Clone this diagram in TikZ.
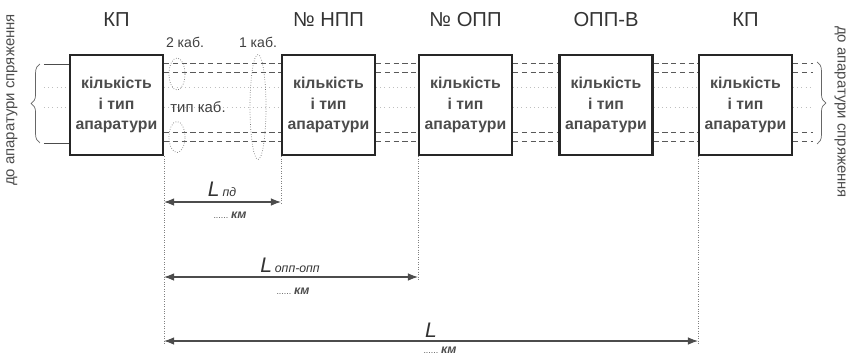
\documentclass[tikz,border=0pt]{standalone}
\usepackage{fontspec}
\setmainfont{Liberation Sans}
\usetikzlibrary{arrows.meta, positioning, shapes.geometric, calc,
                decorations.pathreplacing}

\begin{document}
\begin{tikzpicture}[
    x=0.02cm, y=-0.02cm,
    >=Latex,
    station/.style={draw=black!85, line width=1.2pt, minimum width=1.86cm,
                    minimum height=2cm, align=center, inner sep=1pt,
                    font=\fontsize{9}{11.5}\selectfont\bfseries, text=black!70},
    title/.style={font=\fontsize{11.5}{14}\selectfont, text=black!80},
    cable/.style={densely dashed, draw=black!65, line width=0.6pt},
    faint/.style={dotted, draw=black!25},
    oval/.style={ellipse, densely dotted, draw=black!55, inner sep=0pt},
    guide/.style={densely dotted, draw=black!50},
    span/.style={<->, draw=black!70, line width=0.6pt},
    note/.style={font=\fontsize{8}{10}\selectfont, text=black!75},
    side/.style={font=\fontsize{8.5}{10}\selectfont, text=black!70}
  ]
  \useasboundingbox (0,0) rectangle (851,356);

  % stations
  \node[station] (kp1)  at (116.5,105) {кількість\\і тип\\апаратури};
  \node[station] (npp)  at (328.5,105) {кількість\\і тип\\апаратури};
  \node[station] (opp)  at (465.5,105) {кількість\\і тип\\апаратури};
  \node[station] (oppv) at (606,105)   {кількість\\і тип\\апаратури};
  \node[station] (kp2)  at (745.5,105) {кількість\\і тип\\апаратури};

  \node[title] at (116.5,20) {КП};
  \node[title] at (328.5,20) {№ НПП};
  \node[title] at (465.5,20) {№ ОПП};
  \node[title] at (606,20)   {ОПП-В};
  \node[title] at (745.5,20) {КП};

  % cable pairs between stations
  \foreach \a/\b in {kp1/npp, npp/opp, opp/oppv, oppv/kp2} {
    \foreach \dy in {10,19,79,88}
      \draw[cable] ($(\a.north east)+(0,\dy)$) -- ($(\b.north west)+(0,\dy)$);
    \foreach \dy in {33,53}
      \draw[faint] ($(\a.north east)+(0,\dy)$) -- ($(\b.north west)+(0,\dy)$);
  }

  % cable bundles
  \node[oval, minimum width=0.32cm, minimum height=0.64cm] (two1) at (177,74) {};
  \node[oval, minimum width=0.32cm, minimum height=0.62cm] (two2) at (177,137) {};
  \node[oval, minimum width=0.32cm, minimum height=2.1cm] (one) at (258,107) {};
  \node[note] at (185,42) {2 каб.};
  \node[note] at (258,42) {1 каб.};
  \node[note, font=\fontsize{8.5}{10}\selectfont] at (198,107) {тип каб.};

  % towards interface equipment
  \coordinate (lt) at ($(kp1.north west)+(-25,10)$);
  \coordinate (lb) at ($(kp1.north west)+(-25,89)$);
  \draw[draw=black!70] (lt) -- ($(kp1.north west)+(0,10)$);
  \draw[draw=black!70] (lb) -- ($(kp1.north west)+(0,89)$);
  \foreach \dy in {33,53}
    \draw[faint] ($(kp1.north west)+(-25,\dy)$) -- ($(kp1.north west)+(0,\dy)$);
  \draw[draw=black!60, decorate, decoration={brace, amplitude=5pt}]
    ($(lb)+(-4,0)$) -- ($(lt)+(-4,0)$);
  \foreach \dy in {10,19,79,88}
    \draw[cable] ($(kp2.north east)+(0,\dy)$) -- ++(20,0);
  \foreach \dy in {33,53}
    \draw[faint] ($(kp2.north east)+(0,\dy)$) -- ++(20,0);
  \draw[draw=black!60, decorate, decoration={brace, amplitude=5pt}]
    ($(kp2.north east)+(24,8)$) -- ($(kp2.north east)+(24,90)$);
  \node[side, rotate=90]  (lside) at (12,100)  {до апаратури спряження};
  \node[side, rotate=-90] (rside) at (840,112) {до апаратури спряження};

  % distances
  \draw[guide] (kp1.south east) -- (kp1.south east |- 0,345);
  \draw[guide] (npp.south west) -- (npp.south west |- 0,205);
  \draw[guide] (opp.south west) -- (opp.south west |- 0,280);
  \draw[guide] (kp2.south west) -- (kp2.south west |- 0,344);

  \draw[span] (kp1.south east |- 0,202) -- (npp.south west |- 0,202);
  \draw[span] (kp1.south east |- 0,277) -- (opp.south west |- 0,277);
  \draw[span] (kp1.south east |- 0,341) -- (kp2.south west |- 0,341);

  \node[text=black!80] at (222,189)
    {{\fontsize{12}{14}\selectfont\itshape L}\,{\fontsize{7}{8}\selectfont\itshape пд}};
  \node[text=black!70] at (230,215)
    {{\fontsize{5}{6}\selectfont......}\,{\fontsize{7}{8}\selectfont\itshape\bfseries км}};
  \node[text=black!80] at (290,265)
    {{\fontsize{12}{14}\selectfont\itshape L}\,{\fontsize{7}{8}\selectfont\itshape опп-опп}};
  \node[text=black!70] at (293,291)
    {{\fontsize{5}{6}\selectfont......}\,{\fontsize{7}{8}\selectfont\itshape\bfseries км}};
  \node[text=black!80] at (431,330)
    {{\fontsize{12}{14}\selectfont\itshape L}};
  \node[text=black!70] at (440,350)
    {{\fontsize{5}{6}\selectfont......}\,{\fontsize{7}{8}\selectfont\itshape\bfseries км}};
\end{tikzpicture}
\end{document}
